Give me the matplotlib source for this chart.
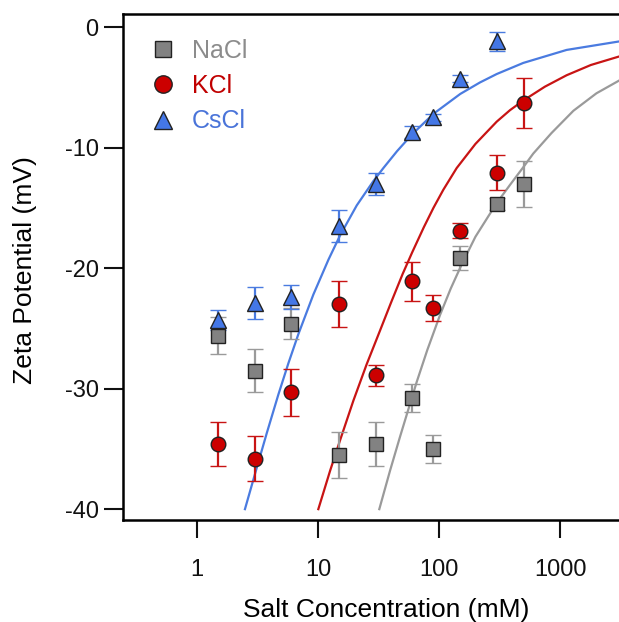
import matplotlib
matplotlib.use("Agg")
import matplotlib.pyplot as plt
from matplotlib.lines import Line2D
from matplotlib.ticker import NullLocator

plt.rcParams['font.family'] = ['Liberation Sans', 'DejaVu Sans']

# Measured zeta potentials (mV) with standard deviations
conc = [1.5, 3, 6, 15, 30, 60, 90, 150, 300, 500]
conc_cs = [1.5, 3, 6, 15, 30, 60, 90, 150, 300]

nacl = [-25.6, -28.5, -24.6, -35.5, -34.6, -30.8, -35.0, -19.2, -14.7, -13.0]
nacl_err = [1.5, 1.75, 1.3, 1.9, 1.8, 1.15, 1.15, 1.0, 0.5, 1.9]

kcl = [-34.6, -35.8, -30.3, -23.0, -28.9, -21.1, -23.3, -16.9, -12.1, -6.3]
kcl_err = [1.8, 1.85, 1.95, 1.9, 0.85, 1.6, 1.05, 0.6, 1.45, 2.1]

cscl = [-24.3, -22.9, -22.4, -16.5, -13.0, -8.7, -7.5, -4.3, -1.2]
cscl_err = [0.85, 1.35, 1.0, 1.35, 0.9, 0.5, 0.3, 0.3, 0.75]

# Model curves (concentration, zeta)
fit_cs_c = [2.49, 3.07, 3.77, 4.70, 5.69, 6.87, 9.15, 12.2, 15.2, 20.9,
            28.6, 34.7, 45, 60, 90, 150, 218, 300, 497, 1135, 3070]
fit_cs_z = [-40.0, -36.8, -33.7, -30.5, -27.9, -25.5, -22.2, -19.3, -17.3,
            -14.8, -12.8, -11.7, -10.3, -8.9, -7.2, -5.55, -4.6, -3.9,
            -2.98, -1.9, -1.2]

fit_k_c = [10.06, 12.6, 15.2, 19.6, 25.2, 32.5, 40, 50, 60, 75, 90, 108.6,
           140, 200, 300, 386, 497, 750, 1135, 1800, 3070]
fit_k_z = [-40.0, -36.8, -34.3, -31.0, -28.0, -25.2, -22.9, -20.5, -18.7,
           -16.6, -15.0, -13.5, -11.7, -9.7, -7.85, -6.9, -6.1, -4.95,
           -4.0, -3.15, -2.45]

fit_na_c = [32.1, 39.4, 47.6, 65.4, 80, 101.9, 125, 154, 200, 300, 386,
            500, 601, 850, 1290, 2000, 3070]
fit_na_z = [-40.0, -36.8, -34.0, -29.45, -26.8, -23.9, -21.7, -19.7,
            -17.4, -14.6, -13.1, -11.6, -10.5, -8.8, -6.95, -5.5, -4.45]

labels = ['NaCl', 'KCl', 'CsCl']
x_ticks = [1, 10, 100, 1000]
x_ticklabels = ['1', '10', '100', '1000']
y_ticks = [0, -10, -20, -30, -40]
y_ticklabels = ['0', '-10', '-20', '-30', '-40']

gray_fill, gray_bar = '#828282', '#9a9a9a'
red_fill, red_bar = '#cc0000', '#c81414'
blue_fill, blue_bar = '#4477e6', '#4a7be0'
edge = '#222222'

fig = plt.figure(figsize=(6.19, 6.22), dpi=100)
ax = fig.add_axes([0.1987, 0.164, 0.8013, 0.8135])
ax.set_xscale('log')

ax.plot(fit_na_c, fit_na_z, color=gray_bar, lw=1.6, zorder=2)
ax.plot(fit_k_c, fit_k_z, color=red_bar, lw=1.6, zorder=2)
ax.plot(fit_cs_c, fit_cs_z, color=blue_bar, lw=1.6, zorder=2)

ms = 10.5
common = dict(capsize=5.5, elinewidth=1.6, capthick=1.6, ls='none',
              markeredgecolor=edge, markeredgewidth=1.0, ms=ms)
ax.errorbar(conc, nacl, yerr=nacl_err, marker='s', color=gray_fill,
            ecolor=gray_bar, zorder=3, **common)
ax.errorbar(conc, kcl, yerr=kcl_err, marker='o', color=red_fill,
            ecolor=red_bar, zorder=3, **common)
ax.errorbar(conc_cs, cscl, yerr=cscl_err, marker='^', color=blue_fill,
            ecolor=blue_bar, zorder=3, **dict(common, ms=ms + 1))

ax.set_xlim(0.2445, 3073)
ax.set_ylim(-40.9, 1.08)
ax.set_xticks(x_ticks)
ax.set_xticklabels(x_ticklabels)
ax.set_yticks(y_ticks)
ax.set_yticklabels(y_ticklabels)
ax.xaxis.set_minor_locator(NullLocator())

for s in ['left', 'bottom', 'top']:
    ax.spines[s].set_linewidth(1.8)
ax.spines['right'].set_visible(False)
ax.tick_params(axis='both', direction='out', width=1.5,
               labelsize=17, colors='#111111')
ax.tick_params(axis='x', length=13, pad=15)
ax.tick_params(axis='y', length=14, pad=3.5)

ax.set_xlabel('Salt Concentration (mM)', fontsize=19)
ax.set_ylabel('Zeta Potential (mV)', fontsize=19)
ax.xaxis.label.set_verticalalignment('center')
ax.yaxis.label.set_verticalalignment('center')
ax.xaxis.set_label_coords(0.530, -0.177)
ax.yaxis.set_label_coords(-0.198, 0.494)

handles = [
    Line2D([], [], marker='s', ls='none', color=gray_fill,
           markeredgecolor=edge, markeredgewidth=1.0, ms=12),
    Line2D([], [], marker='o', ls='none', color=red_fill,
           markeredgecolor=edge, markeredgewidth=1.0, ms=12.5),
    Line2D([], [], marker='^', ls='none', color=blue_fill,
           markeredgecolor=edge, markeredgewidth=1.0, ms=13),
]
leg = ax.legend(handles, labels, loc='upper left', frameon=False,
                bbox_to_anchor=(0.0, 1.0), fontsize=18, handlelength=1.2,
                handletextpad=0.55, labelspacing=0.45, borderaxespad=0.6,
                labelcolor=['#8c8c8c', '#c00000', '#4a74d9'])

fig.savefig('out.png', dpi=100)
